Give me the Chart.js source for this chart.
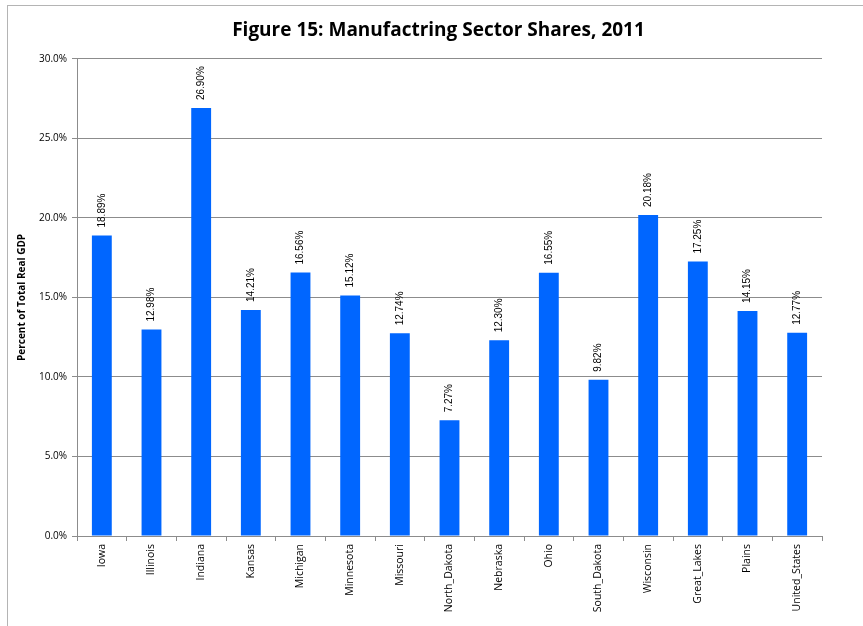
<!DOCTYPE html>
<html>
<head>
<meta charset="utf-8">
<title>Manufacturing Sector Shares</title>
<script src="https://cdn.jsdelivr.net/npm/chart.js@4"></script>
<style>
  html, body { margin: 0; padding: 0; background: #fff; }
  #frame {
    position: absolute; left: 7px; top: 5px; width: 856px; height: 621px;
    border-top: 1px solid #b4b4b4; border-left: 1px solid #b4b4b4;
  }
  #wrap { position: absolute; left: 0; top: 0; width: 863px; height: 626px; }
</style>
</head>
<body>
<div id="frame"></div>
<div id="wrap"><canvas id="sektorChart"></canvas></div>
<script>
var wilayah = ['Iowa', 'Illinois', 'Indiana', 'Kansas', 'Michigan', 'Minnesota', 'Missouri', 'North_Dakota',
  'Nebraska', 'Ohio', 'South_Dakota', 'Wisconsin', 'Great_Lakes', 'Plains', 'United_States']
var saham = [18.89, 12.98, 26.90, 14.21, 16.56, 15.12, 12.74, 7.27, 12.30, 16.55, 9.82, 20.18, 17.25, 14.15, 12.77]
var yTicks = [0, 5, 10, 15, 20, 25, 30]

var fontUtama = "'Open Sans', 'Liberation Sans', sans-serif"

// value labels written upward above each bar
var labelNilai = {
  id: 'labelNilai',
  afterDatasetsDraw(chart) {
    var ctx = chart.ctx
    var meta = chart.getDatasetMeta(0)
    ctx.save()
    ctx.font = "10px 'Liberation Sans', sans-serif"
    ctx.fillStyle = '#000'
    ctx.textAlign = 'left'
    ctx.textBaseline = 'middle'
    meta.data.forEach((bar, i) => {
      ctx.save()
      ctx.translate(bar.x, bar.y - 8)
      ctx.rotate(-Math.PI / 2)
      ctx.fillText(saham[i].toFixed(2) + '%', 0, 0)
      ctx.restore()
    })
    ctx.restore()
  }
}

// center the title over the plot plus axis, not the whole canvas
var geserJudul = {
  id: 'geserJudul',
  afterLayout(chart) {
    var judul = chart.titleBlock
    if (judul) {
      judul.left = 54
      judul.right = 823
    }
  }
}

var ctx = document.getElementById('sektorChart').getContext('2d')
var chartSektor = new Chart(ctx, {
  type: 'bar',
  data: {
    labels: wilayah,
    datasets: [{
      label: 'Manufacturing share',
      data: saham,
      backgroundColor: '#0066ff',
      borderWidth: 0,
      barPercentage: 0.4,
      categoryPercentage: 1
    }]
  },
  options: {
    responsive: true,
    maintainAspectRatio: false,
    animation: false,
    layout: { padding: { left: 0, right: 41, top: 0, bottom: 0 } },
    plugins: {
      legend: { display: false },
      tooltip: { enabled: false },
      title: {
        display: true,
        text: 'Figure 15: Manufactring Sector Shares, 2011',
        color: '#000',
        font: { family: fontUtama, size: 19, weight: 'bold' },
        padding: { top: 19, bottom: 17 }
      }
    },
    scales: {
      x: {
        grid: { drawOnChartArea: false, drawTicks: true, tickLength: 5, color: '#8c8c8c' },
        border: { color: '#8c8c8c' },
        ticks: {
          color: '#000',
          font: { family: fontUtama, size: 10.5 },
          minRotation: 90,
          maxRotation: 90,
          autoSkip: false,
          padding: 3
        },
        afterFit(scale) { scale.height = 90 }
      },
      y: {
        min: 0,
        max: 30,
        afterBuildTicks(scale) { scale.ticks = yTicks.map(v => ({ value: v })) },
        grid: { color: '#8c8c8c', tickLength: 5 },
        border: { color: '#8c8c8c' },
        ticks: {
          color: '#000',
          font: { family: fontUtama, size: 10 },
          padding: 5,
          callback: v => v.toFixed(1) + '%'
        },
        title: {
          display: true,
          text: 'Percent of Total Real GDP',
          color: '#000',
          font: { family: fontUtama, size: 10, weight: 'bold' },
          padding: { top: 16, bottom: 0 }
        },
        afterFit(scale) { scale.width = 77 }
      }
    }
  },
  plugins: [labelNilai, geserJudul]
})
</script>
</body>
</html>
